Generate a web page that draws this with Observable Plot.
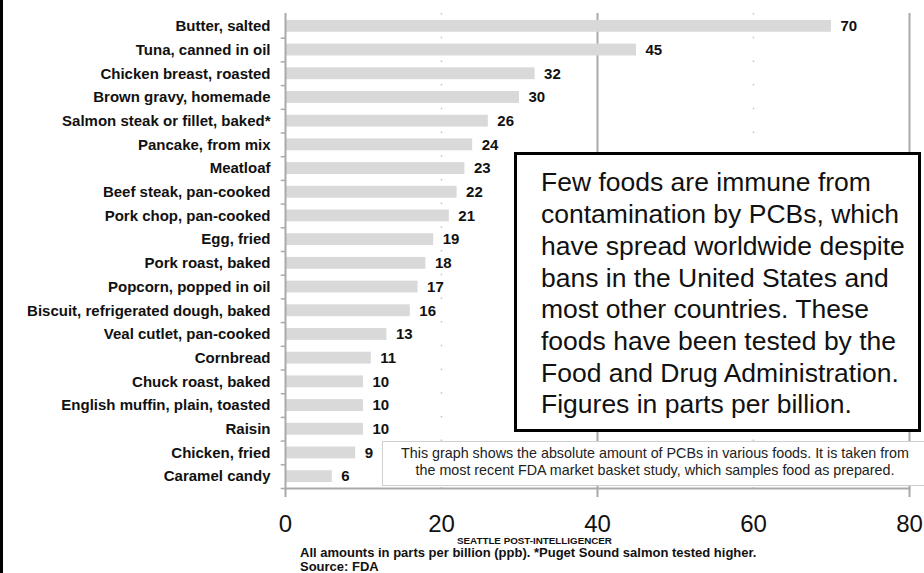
<!DOCTYPE html>
<html>
<head>
<meta charset="utf-8">
<script src="https://cdn.jsdelivr.net/npm/d3@7"></script>
<script src="https://cdn.jsdelivr.net/npm/@observablehq/plot@0.6"></script>
<style>
  html, body { margin: 0; padding: 0; background: #fff; }
  #wrap { position: relative; width: 924px; height: 573px; overflow: hidden; font-family: "Liberation Sans", Arial, sans-serif; }
  #wrap svg { position: absolute; left: 0; top: 0; }
  .leftbar { position: absolute; left: 0; top: 0; width: 3px; height: 573px; background: #000; }
  .bigbox { position: absolute; left: 514px; top: 152px; width: 401px; height: 274px; border: 3px solid #000; background: #fff;
            box-sizing: content-box; font-size: 26.5px; line-height: 31.7px; padding: 0; color: #111; }
  .bigbox div { position: absolute; left: 24px; top: 12.4px; white-space: nowrap; }
  .smallbox { position: absolute; left: 382px; top: 441px; width: 544px; height: 43px; border: 1px solid #cfcfcf; background: #fff;
              font-size: 14.3px; line-height: 17px; text-align: center; color: #222; }
  .smallbox div { padding-top: 2.5px; white-space: nowrap; }
  .note { position: absolute; font-weight: bold; color: #111; white-space: nowrap; line-height: 1; }
</style>
</head>
<body>
<div id="wrap"></div>
<script>
// Data
const foods = [
  "Butter, salted",
  "Tuna, canned in oil",
  "Chicken breast, roasted",
  "Brown gravy, homemade",
  "Salmon steak or fillet, baked*",
  "Pancake, from mix",
  "Meatloaf",
  "Beef steak, pan-cooked",
  "Pork chop, pan-cooked",
  "Egg, fried",
  "Pork roast, baked",
  "Popcorn, popped in oil",
  "Biscuit, refrigerated dough, baked",
  "Veal cutlet, pan-cooked",
  "Cornbread",
  "Chuck roast, baked",
  "English muffin, plain, toasted",
  "Raisin",
  "Chicken, fried",
  "Caramel candy"
];
const ppb = [70, 45, 32, 30, 26, 24, 23, 22, 21, 19, 18, 17, 16, 13, 11, 10, 10, 10, 9, 6];
const xTicks = [0, 20, 40, 60, 80];
const solidGrid = [40, 80];
const faintGrid = [20, 60];
const boxText = [
  "Few foods are immune from",
  "contamination by PCBs, which",
  "have spread worldwide despite",
  "bans in the United States and",
  "most other countries. These",
  "foods have been tested by the",
  "Food and Drug Administration.",
  "Figures in parts per billion."
];
const smallText = [
  "This graph shows the absolute amount of PCBs in various foods. It is taken from",
  "the most recent FDA market basket study, which samples food as prepared."
];
const credit = "SEATTLE POST-INTELLIGENCER";
const footnote = "All amounts in parts per billion (ppb). *Puget Sound salmon tested higher.";
const source = "Source: FDA";

const data = foods.map((f, i) => ({food: f, value: ppb[i]}));
const step = (488 - 14) / foods.length;

const chart = Plot.plot({
  width: 924,
  height: 573,
  marginLeft: 285,
  marginRight: 15,
  marginTop: 14,
  marginBottom: 85,
  style: {fontFamily: "'Liberation Sans', Arial, sans-serif", background: "transparent", color: "#111"},
  x: {domain: [0, 80]},
  y: {domain: foods, paddingInner: 0.5, paddingOuter: 0.25, round: false},
  marks: [
    Plot.ruleX(faintGrid, {stroke: "#c4c4c4", strokeWidth: 1.5, strokeDasharray: "1.5,22.2", insetTop: -1, insetBottom: -9}),
    Plot.ruleX(solidGrid, {stroke: "#aaa", strokeWidth: 2, insetTop: -1, insetBottom: -9}),
    Plot.barX(data, {x: "value", y: "food", fill: "#d9d9d9"}),
    Plot.ruleY(foods, {y: d => d, x1: -0.55, x2: 0, dy: step / 2, stroke: "#aaa", strokeWidth: 1.5}),
    Plot.ruleX([0], {stroke: "#aaa", strokeWidth: 2, insetTop: -1, insetBottom: -9}),
    Plot.frame({anchor: "bottom", stroke: "#aaa", strokeWidth: 2}),
    Plot.text(data, {x: "value", y: "food", text: d => String(d.value), dx: 9, textAnchor: "start", fontWeight: "bold", fontSize: 15, fill: "#111"}),
    Plot.axisY({tickSize: 0, tickPadding: 15, fontSize: 15, fontWeight: "bold", label: null, style: {letterSpacing: "0.5px"}}),
    Plot.axisX({ticks: xTicks, tickSize: 0, tickPadding: 26, fontSize: 24, label: null})
  ]
});

const wrap = document.getElementById("wrap");
wrap.appendChild(chart);

const lb = document.createElement("div");
lb.className = "leftbar";
wrap.appendChild(lb);

const big = document.createElement("div");
big.className = "bigbox";
const bigInner = document.createElement("div");
boxText.forEach((t, i) => {
  if (i) bigInner.appendChild(document.createElement("br"));
  bigInner.appendChild(document.createTextNode(t));
});
big.appendChild(bigInner);
wrap.appendChild(big);

const small = document.createElement("div");
small.className = "smallbox";
const smallInner = document.createElement("div");
smallText.forEach((t, i) => {
  if (i) smallInner.appendChild(document.createElement("br"));
  smallInner.appendChild(document.createTextNode(t));
});
small.appendChild(smallInner);
wrap.appendChild(small);

function note(text, left, top, size) {
  const d = document.createElement("div");
  d.className = "note";
  d.style.left = left + "px";
  d.style.top = top + "px";
  d.style.fontSize = size + "px";
  d.textContent = text;
  wrap.appendChild(d);
}
note(credit, 457, 535.5, 9.8);
note(footnote, 300, 546.4, 13);
note(source, 300, 560.2, 13);
</script>
</body>
</html>
